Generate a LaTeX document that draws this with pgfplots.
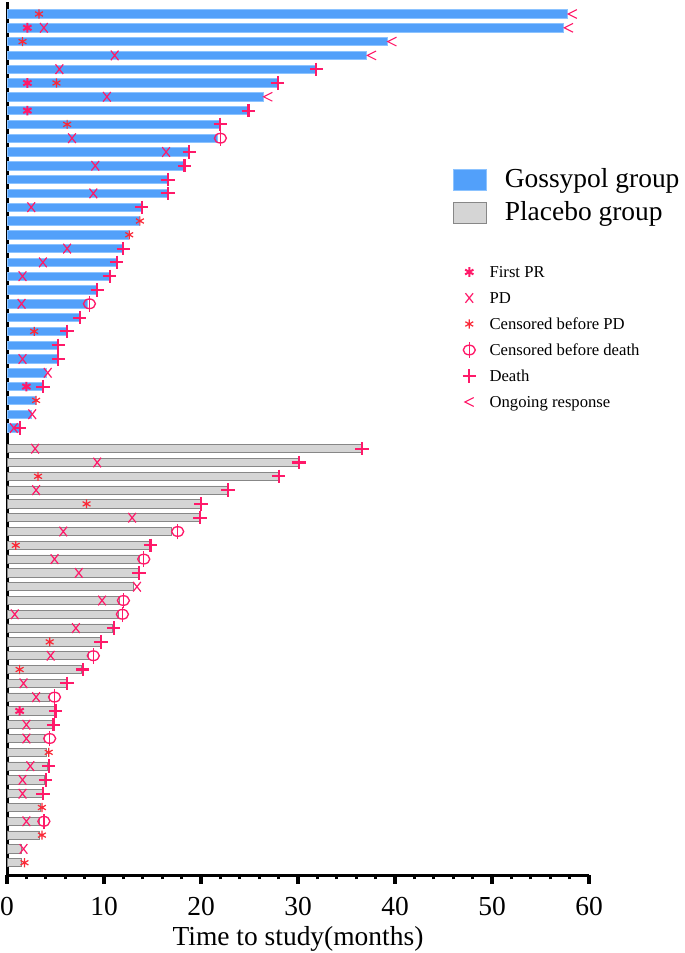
\documentclass[border=0pt]{standalone}
\usepackage{fontspec}
\setmainfont{Liberation Serif}
\usepackage{pgfplots}
\pgfplotsset{compat=1.18}
\usepackage{pgfplotstable}
\usetikzlibrary{plotmarks}

\definecolor{gblue}{RGB}{82,160,250}
\definecolor{gblueedge}{RGB}{140,195,255}
\definecolor{pgray}{RGB}{213,213,213}
\definecolor{pgrayedge}{RGB}{135,135,135}
\definecolor{pinkm}{RGB}{255,25,105}
\definecolor{redc}{RGB}{250,40,55}

\pgfdeclareplotmark{phi}{%
  \pgfpathellipse{\pgfpointorigin}{\pgfpoint{1.0\pgfplotmarksize}{0pt}}{\pgfpoint{0pt}{0.8\pgfplotmarksize}}%
  \pgfusepathqstroke
  \pgfpathmoveto{\pgfpoint{0pt}{-1.3\pgfplotmarksize}}%
  \pgfpathlineto{\pgfpoint{0pt}{1.3\pgfplotmarksize}}%
  \pgfusepathqstroke}
\pgfdeclareplotmark{lt}{%
  \pgfpathmoveto{\pgfpoint{\pgfplotmarksize}{\pgfplotmarksize}}%
  \pgfpathlineto{\pgfpoint{-\pgfplotmarksize}{0pt}}%
  \pgfpathlineto{\pgfpoint{\pgfplotmarksize}{-\pgfplotmarksize}}%
  \pgfusepathqstroke}
\pgfdeclareplotmark{tallx}{%
  \pgfpathmoveto{\pgfpoint{-0.8\pgfplotmarksize}{-\pgfplotmarksize}}%
  \pgfpathlineto{\pgfpoint{0.8\pgfplotmarksize}{\pgfplotmarksize}}%
  \pgfpathmoveto{\pgfpoint{-0.8\pgfplotmarksize}{\pgfplotmarksize}}%
  \pgfpathlineto{\pgfpoint{0.8\pgfplotmarksize}{-\pgfplotmarksize}}%
  \pgfusepathqstroke}

% Gossypol group bars (x = months, y = row)
\pgfplotstableread{
x y
57.8 -1
57.4 -2
39.2 -3
37.1 -4
31.9 -5
27.9 -6
26.4 -7
24.9 -8
22.0 -9
21.7 -10
18.8 -11
18.3 -12
16.6 -13
16.6 -14
13.9 -15
13.6 -16
12.5 -17
12.0 -18
11.3 -19
10.6 -20
9.3 -21
8.3 -22
7.5 -23
6.2 -24
5.3 -25
5.3 -26
4.1 -27
3.7 -28
2.9 -29
2.5 -30
1.3 -31
}\gossypol

% Placebo group bars
\pgfplotstableread{
x y
36.6 -32.5
30.1 -33.5
28.0 -34.5
22.8 -35.5
20.0 -36.5
19.9 -37.5
16.9 -38.5
14.7 -39.5
13.7 -40.5
13.5 -41.5
13.0 -42.5
11.6 -43.5
11.5 -44.5
10.9 -45.5
9.6 -46.5
8.4 -47.5
7.7 -48.5
6.1 -49.5
4.4 -50.5
4.9 -51.5
4.8 -52.5
3.9 -53.5
4.1 -54.5
4.2 -55.5
3.9 -56.5
3.7 -57.5
3.4 -58.5
3.3 -59.5
3.3 -60.5
1.5 -61.5
1.5 -62.5
}\placebo

\pgfplotstableread{
x y
2.1 -2
2.1 -6
2.1 -8
2.0 -28
1.3 -51.5
}\firstpr

\pgfplotstableread{
x y
3.8 -2
11.1 -4
5.4 -5
10.3 -7
6.7 -10
16.4 -11
9.1 -12
8.9 -14
2.5 -15
6.2 -18
3.7 -19
1.6 -20
1.5 -22
1.6 -26
4.2 -27
2.6 -30
0.7 -31
2.9 -32.5
9.3 -33.5
3.0 -35.5
12.9 -37.5
5.8 -38.5
4.9 -40.5
7.4 -41.5
13.4 -42.5
9.8 -43.5
0.8 -44.5
7.1 -45.5
4.5 -47.5
1.7 -49.5
3.0 -50.5
2.0 -52.5
2.0 -53.5
2.4 -55.5
1.6 -56.5
1.6 -57.5
2.0 -59.5
1.7 -61.5
}\pd

\pgfplotstableread{
x y
3.3 -1
1.6 -3
5.1 -6
6.2 -9
13.7 -16
12.6 -17
2.8 -24
3.0 -29
3.2 -34.5
8.2 -36.5
0.9 -39.5
4.4 -46.5
1.3 -48.5
4.3 -54.5
3.6 -58.5
3.6 -60.5
1.8 -62.5
}\censpd

\pgfplotstableread{
x y
22.0 -10
8.5 -22
17.6 -38.5
14.1 -40.5
12.0 -43.5
11.9 -44.5
8.9 -47.5
4.9 -50.5
4.4 -53.5
3.8 -59.5
}\censdeath

\pgfplotstableread{
x y
31.9 -5
27.9 -6
24.9 -8
22.0 -9
18.8 -11
18.3 -12
16.6 -13
16.6 -14
13.9 -15
12.0 -18
11.3 -19
10.6 -20
9.3 -21
7.5 -23
6.2 -24
5.3 -25
5.3 -26
3.7 -28
1.3 -31
36.6 -32.5
30.1 -33.5
28.0 -34.5
22.8 -35.5
20.0 -36.5
19.9 -37.5
14.8 -39.5
13.6 -41.5
11.0 -45.5
9.7 -46.5
7.8 -48.5
6.2 -49.5
5.0 -51.5
4.8 -52.5
4.3 -55.5
4.0 -56.5
3.7 -57.5
}\death

\pgfplotstableread{
x y
58.3 -1
57.9 -2
39.7 -3
37.6 -4
26.9 -7
}\ongoing

\begin{document}
\begin{tikzpicture}
\useasboundingbox (-5.25pt,-58.5pt) rectangle (508.5pt,656.25pt);
\begin{axis}[
  scale only axis, width=436.5pt, height=654.75pt,
  at={(0pt,0pt)}, anchor=south west,
  xmin=0, xmax=60, ymin=-63.39, ymax=-0.13,
  axis x line*=bottom, axis y line*=left,
  axis line style={line width=2.25pt, -},
  xtick={0,10,...,60}, minor x tick num=4, ytick=\empty,
  tick align=outside, major tick length=6.4pt, minor tick length=3.3pt,
  major tick style={line width=2.8pt, black},
  minor tick style={line width=2.2pt, black},
  ticklabel style={font=\fontsize{20.6}{24}\selectfont},
  xticklabel style={yshift=-6.6pt},
  /pgf/number format/assume math mode=true,
  xlabel={Time to study(months)},
  xlabel style={font=\fontsize{20.6}{24}\selectfont, at={(axis description cs:0.5,0)}, anchor=base, yshift=-52.5pt},
  clip=false,
  legend cell align=left,
  legend style={at={(0.7663,0.8156)}, anchor=north west, draw=none, fill=none,
    inner sep=0pt, outer sep=0pt, row sep=0pt, column sep=0pt,
    font=\fontsize{20.6}{24}\selectfont,
    nodes={inner sep=0pt, text height=18.6pt, text depth=6.2pt}},
  legend image code/.code={\draw[#1] (0pt,-7.9pt) rectangle (24.75pt,7.9pt); \path (38.25pt,0pt);},
]
\addplot[xbar, bar width=0.6, bar shift=0pt, fill=gblue, draw=gblueedge, line width=0.6pt] table[x=x,y=y] {\gossypol};
\addlegendentry{Gossypol group}
\addplot[xbar, bar width=0.6, bar shift=0pt, fill=pgray, draw=pgrayedge, line width=0.6pt] table[x=x,y=y] {\placebo};
\addlegendentry{Placebo group}
\end{axis}
\begin{axis}[
  scale only axis, width=436.5pt, height=654.75pt,
  at={(0pt,0pt)}, anchor=south west,
  xmin=0, xmax=60, ymin=-63.39, ymax=-0.13,
  hide axis, clip=false,
  legend cell align=left,
  legend style={at={(0.7801,0.7056)}, anchor=north west, draw=none, fill=none,
    inner sep=0pt, outer sep=0pt, row sep=0pt, column sep=0pt,
    font=\fontsize{12.5}{15}\selectfont,
    nodes={inner sep=0pt, text height=13.5pt, text depth=6pt}},
  legend image code/.code={\draw[#1] plot coordinates {(0pt,0pt)}; \path (-6pt,0pt) (15pt,0pt);},
]
\addplot[only marks, mark=asterisk, mark size=3.6pt, color=pinkm, mark options={line width=1.5pt}] table[x=x,y=y] {\firstpr};
\addlegendentry{First PR}
\addplot[only marks, mark=tallx, mark size=3.6pt, color=pinkm, mark options={line width=0.9pt}] table[x=x,y=y] {\pd};
\addlegendentry{PD}
\addplot[only marks, mark=asterisk, mark size=3.4pt, color=redc, mark options={line width=0.9pt}] table[x=x,y=y] {\censpd};
\addlegendentry{Censored before PD}
\addplot[only marks, mark=phi, mark size=4.5pt, color=pinkm, mark options={line width=1pt}] table[x=x,y=y] {\censdeath};
\addlegendentry{Censored before death}
\addplot[only marks, mark=+, mark size=5pt, color=pinkm, mark options={line width=1.6pt}] table[x=x,y=y] {\death};
\addlegendentry{Death}
\addplot[only marks, mark=lt, mark size=3.3pt, color=pinkm, mark options={line width=0.8pt}] table[x=x,y=y] {\ongoing};
\addlegendentry{Ongoing response}
\end{axis}
\end{tikzpicture}
\end{document}
